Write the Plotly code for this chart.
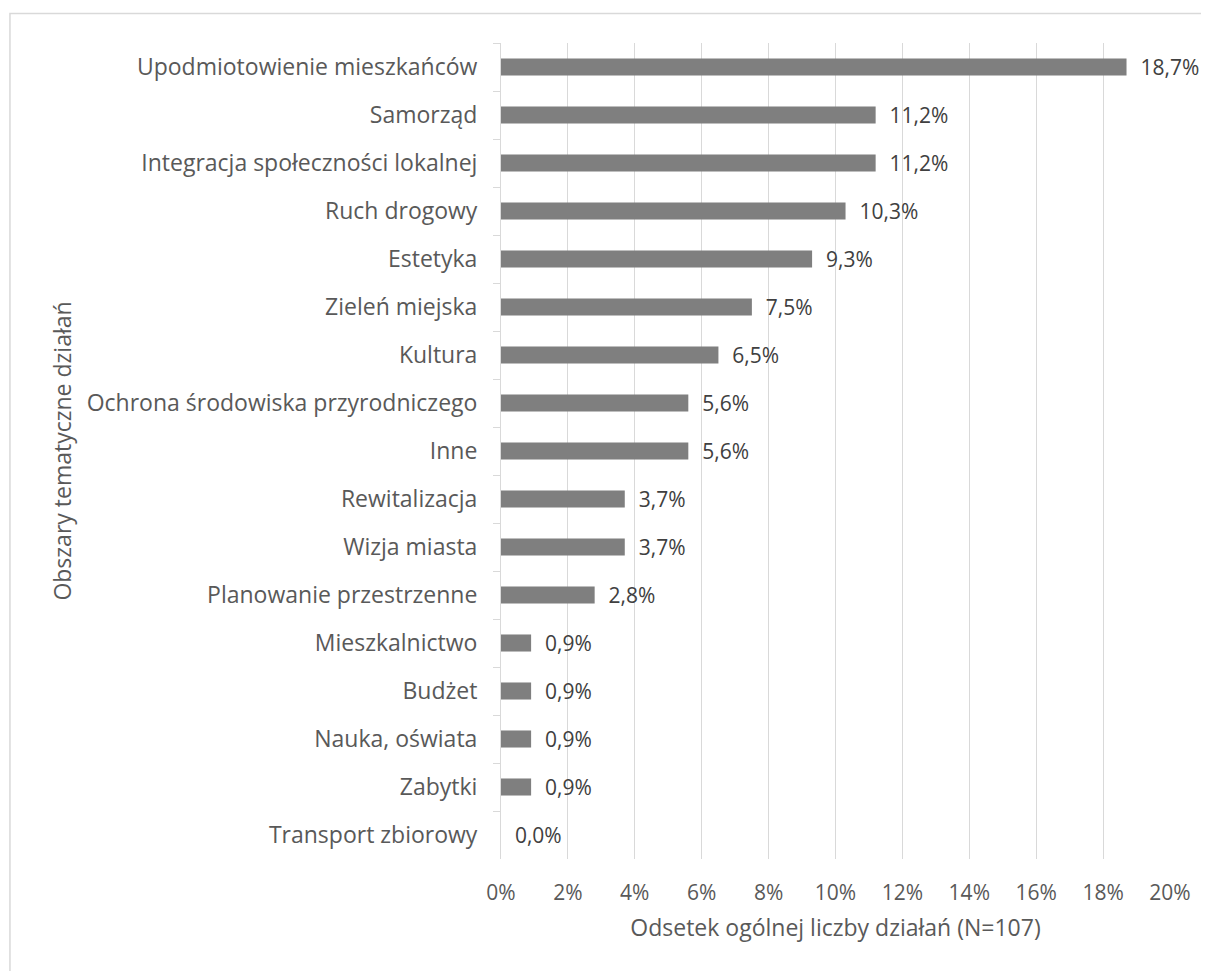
import plotly.graph_objects as go

categories = [
    "Upodmiotowienie mieszkańców",
    "Samorząd",
    "Integracja społeczności lokalnej",
    "Ruch drogowy",
    "Estetyka",
    "Zieleń miejska",
    "Kultura",
    "Ochrona środowiska przyrodniczego",
    "Inne",
    "Rewitalizacja",
    "Wizja miasta",
    "Planowanie przestrzenne",
    "Mieszkalnictwo",
    "Budżet",
    "Nauka, oświata",
    "Zabytki",
    "Transport zbiorowy",
]
values = [18.7, 11.2, 11.2, 10.3, 9.3, 7.5, 6.5, 5.6, 5.6, 3.7, 3.7, 2.8, 0.9, 0.9, 0.9, 0.9, 0.0]
tick_vals = [0, 2, 4, 6, 8, 10, 12, 14, 16, 18, 20]
tick_text = [f"{v}%" for v in tick_vals]
labels = [f"{v:.1f}%".replace(".", ",") for v in values]

FONT = "Open Sans"
TXT = "#595959"
GRID = "#d9d9d9"

fig = go.Figure(go.Bar(
    x=values, y=categories, orientation="h",
    marker=dict(color="#7f7f7f", line=dict(width=0)),
    text=labels, texttemplate="\u00a0\u00a0%{text}",
    textposition="outside", cliponaxis=False, constraintext="none",
    textfont=dict(family=FONT, size=21, color="#404040"),
))

fig.update_layout(
    width=1201, height=963,
    margin=dict(l=493, r=39, t=35, b=112),
    paper_bgcolor="white", plot_bgcolor="white",
    bargap=0.645,
    showlegend=False,
    font=dict(family=FONT, size=22, color=TXT),
    xaxis=dict(
        range=[0, 20], tickvals=tick_vals, ticktext=tick_text,
        showgrid=True, gridcolor=GRID, gridwidth=1,
        zeroline=False, showline=False, ticks="",
        ticklabelstandoff=19,
        tickfont=dict(family=FONT, size=21, color=TXT),
        title=dict(text="Odsetek ogólnej liczby działań (N=107)",
                   font=dict(family=FONT, size=23, color=TXT), standoff=14),
    ),
    yaxis=dict(
        autorange="reversed", showgrid=False,
        showline=True, linecolor=GRID, linewidth=1,
        ticks="outside", tickson="boundaries", ticklen=7, tickcolor=GRID,
        ticklabelstandoff=18,
        tickfont=dict(family=FONT, size=23, color=TXT),
        title=dict(text="Obszary tematyczne działań",
                   font=dict(family=FONT, size=23, color=TXT), standoff=8),
    ),
    shapes=[dict(type="rect", xref="paper", yref="paper",
                 x0=-0.734, x1=2, y0=-1, y1=1.036,
                 line=dict(color=GRID, width=1.5), layer="below")],
)

fig.write_html("out.html")
